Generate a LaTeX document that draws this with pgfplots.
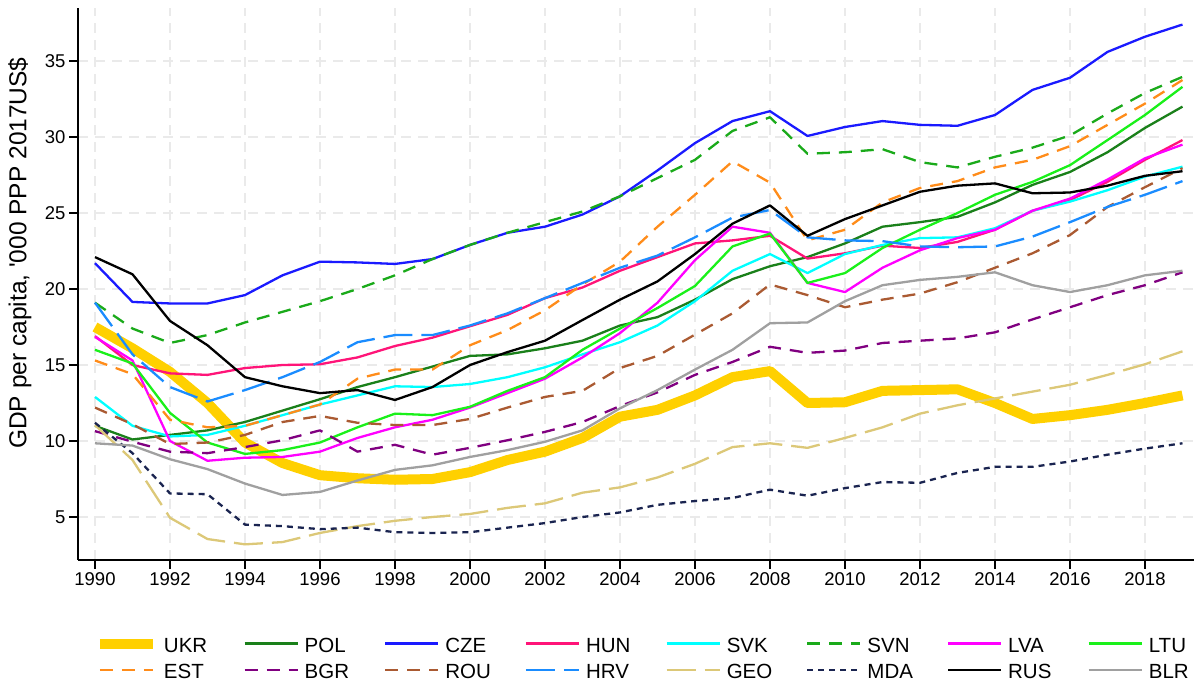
\documentclass[border=0pt]{standalone}
\usepackage{fontspec}
\setmainfont{Liberation Sans}
\usepackage{pgfplots}
\usepackage{pgfplotstable}
\pgfplotsset{compat=1.18}
\definecolor{cUKR}{RGB}{255,208,0}
\definecolor{cPOL}{RGB}{26,128,26}
\definecolor{cCZE}{RGB}{26,26,255}
\definecolor{cHUN}{RGB}{255,20,120}
\definecolor{cSVK}{RGB}{0,255,255}
\definecolor{cSVN}{RGB}{26,170,26}
\definecolor{cLVA}{RGB}{255,0,255}
\definecolor{cLTU}{RGB}{26,240,26}
\definecolor{cEST}{RGB}{255,140,26}
\definecolor{cBGR}{RGB}{128,0,128}
\definecolor{cROU}{RGB}{170,90,50}
\definecolor{cHRV}{RGB}{26,140,255}
\definecolor{cGEO}{RGB}{220,200,120}
\definecolor{cMDA}{RGB}{26,36,80}
\definecolor{cRUS}{RGB}{0,0,0}
\definecolor{cBLR}{RGB}{160,160,160}
\definecolor{gridc}{RGB}{234,234,234}
\pgfplotstableread{
year UKR POL CZE HUN SVK SVN LVA LTU EST BGR ROU HRV GEO MDA RUS BLR
1990 17.5 11.0 21.7 16.9 12.9 19.1 16.85 16.0 15.3 10.65 12.2 19.1 11.05 11.2 22.1 9.85
1991 16.1 10.1 19.15 15.0 11.0 17.4 15.3 15.1 14.4 9.95 11.1 15.7 8.75 9.2 20.97 9.7
1992 14.55 10.4 19.05 14.45 10.3 16.45 10.0 11.85 11.4 9.3 9.8 13.55 4.95 6.55 17.9 8.8
1993 12.5 10.7 19.05 14.35 10.4 16.97 8.7 9.9 10.9 9.2 9.9 12.6 3.55 6.5 16.3 8.15
1994 9.9 11.25 19.6 14.8 11.0 17.8 8.9 9.15 11.0 9.6 10.4 13.35 3.2 4.5 14.2 7.2
1995 8.55 12.0 20.9 15.0 11.7 18.5 8.95 9.4 11.7 10.05 11.25 14.2 3.35 4.4 13.6 6.45
1996 7.75 12.75 21.8 15.05 12.4 19.2 9.3 9.9 12.4 10.7 11.65 15.2 3.95 4.2 13.15 6.65
1997 7.55 13.55 21.75 15.5 13.0 20.0 10.2 10.9 14.1 9.3 11.2 16.5 4.4 4.3 13.35 7.4
1998 7.45 14.2 21.65 16.25 13.6 20.9 10.9 11.8 14.7 9.75 11.05 16.97 4.75 4.0 12.7 8.1
1999 7.5 14.9 21.97 16.8 13.55 21.97 11.4 11.7 14.7 9.1 11.05 16.97 5.0 3.95 13.55 8.4
2000 7.95 15.6 22.9 17.55 13.75 22.9 12.2 12.25 16.3 9.55 11.45 17.6 5.2 4.0 15.0 8.95
2001 8.75 15.7 23.7 18.3 14.2 23.7 13.15 13.3 17.3 10.05 12.2 18.4 5.6 4.3 15.85 9.4
2002 9.3 16.1 24.1 19.4 14.85 24.4 14.1 14.2 18.6 10.6 12.9 19.4 5.9 4.6 16.6 9.95
2003 10.2 16.6 24.9 20.1 15.7 25.1 15.5 16.0 20.3 11.25 13.3 20.4 6.6 5.0 17.96 10.7
2004 11.6 17.6 26.1 21.2 16.5 26.1 17.1 17.4 21.8 12.3 14.8 21.4 6.95 5.3 19.3 12.15
2005 12.05 18.15 27.8 22.1 17.6 27.3 19.1 18.75 24.1 13.2 15.6 22.2 7.6 5.8 20.5 13.35
2006 13.0 19.3 29.6 23.0 19.2 28.5 21.9 20.2 26.2 14.35 17.0 23.4 8.5 6.05 22.3 14.7
2007 14.2 20.65 31.05 23.2 21.2 30.4 24.1 22.8 28.4 15.2 18.4 24.7 9.6 6.25 24.3 16.0
2008 14.6 21.5 31.7 23.5 22.3 31.3 23.7 23.65 27.0 16.2 20.3 25.2 9.85 6.8 25.5 17.75
2009 12.5 22.1 30.07 22.0 21.05 28.9 20.4 20.4 23.2 15.8 19.6 23.4 9.55 6.4 23.5 17.8
2010 12.55 23.0 30.66 22.35 22.3 29.0 19.8 21.05 23.9 15.95 18.8 23.2 10.2 6.9 24.6 19.2
2011 13.3 24.1 31.05 22.85 22.9 29.2 21.4 22.7 25.7 16.45 19.3 23.15 10.9 7.3 25.5 20.25
2012 13.35 24.4 30.8 22.7 23.35 28.35 22.55 23.9 26.65 16.6 19.7 22.8 11.8 7.25 26.4 20.6
2013 13.4 24.75 30.74 23.1 23.4 28.0 23.35 25.0 27.1 16.75 20.45 22.75 12.35 7.9 26.8 20.8
2014 12.5 25.7 31.45 23.9 24.0 28.7 23.9 26.2 28.0 17.15 21.4 22.8 12.8 8.3 26.95 21.1
2015 11.45 26.85 33.1 25.15 25.15 29.3 25.15 27.05 28.5 18.0 22.35 23.45 13.25 8.3 26.3 20.25
2016 11.7 27.7 33.9 25.85 25.75 30.1 25.95 28.15 29.4 18.8 23.55 24.4 13.7 8.65 26.35 19.8
2017 12.05 29.0 35.6 27.05 26.5 31.55 27.2 29.8 30.8 19.6 25.4 25.4 14.35 9.1 26.8 20.25
2018 12.5 30.6 36.6 28.5 27.4 32.9 28.6 31.45 32.2 20.25 26.7 26.2 15.05 9.5 27.45 20.9
2019 13.0 32.0 37.4 29.8 28.05 33.96 29.5 33.3 33.75 21.1 27.95 27.1 15.9 9.85 27.75 21.2
}\gdp
\begin{document}
\begin{tikzpicture}
\useasboundingbox (0,0) rectangle (1194pt,687pt);
\begin{axis}[
  at={(78pt,127pt)}, anchor=south west,
  scale only axis, width=1116pt, height=552pt,
  xmin=1989.547, xmax=2019.307, ymin=2.171, ymax=38.49,
  axis x line*=bottom, axis y line*=left,
  axis line style={line width=1.3pt, black},
  xtick={1990,1992,...,2018}, ytick={5,10,...,35},
  tick align=outside, major tick length=9pt,
  tick style={line width=1.3pt, black},
  /pgf/number format/assume math mode=true,
  /pgf/number format/1000 sep={},
  ticklabel style={font=\fontsize{18.5}{22}\selectfont},
  grid=major,
  major grid style={gridc, line width=1.6pt, dash pattern=on 10pt off 7pt},
  ylabel={GDP per capita, \textquotesingle000 PPP 2017US\$},
  ylabel style={font=\fontsize{24.5}{28}\selectfont, at={(axis description cs:-0.052,0.556)}, anchor=center},
  legend columns=8,
  legend style={draw=none, fill=none, inner sep=0pt, outer sep=0pt,
    at={(axis description cs:0.0152,-0.133)}, anchor=north west,
    font=\fontsize{20.5}{27}\selectfont,
    nodes={inner sep=0pt},
    /tikz/every odd column/.style={column sep=6pt},
    row sep=6pt},
  legend image code/.code={\draw[#1] (0pt,0pt) -- (53pt,0pt);},
  every axis plot/.append style={line width=2.3pt, line join=round},
]
\addplot[cUKR, line width=10pt] table[x=year,y=UKR]{\gdp};
\addlegendentry{\makebox[79.4pt][l]{\strut UKR}}
\addplot[cPOL] table[x=year,y=POL]{\gdp};
\addlegendentry{\makebox[79.4pt][l]{\strut POL}}
\addplot[cCZE] table[x=year,y=CZE]{\gdp};
\addlegendentry{\makebox[79.4pt][l]{\strut CZE}}
\addplot[cHUN] table[x=year,y=HUN]{\gdp};
\addlegendentry{\makebox[79.4pt][l]{\strut HUN}}
\addplot[cSVK] table[x=year,y=SVK]{\gdp};
\addlegendentry{\makebox[79.4pt][l]{\strut SVK}}
\addplot[cSVN, dash pattern=on 13pt off 9pt] table[x=year,y=SVN]{\gdp};
\addlegendentry{\makebox[79.4pt][l]{\strut SVN}}
\addplot[cLVA] table[x=year,y=LVA]{\gdp};
\addlegendentry{\makebox[79.4pt][l]{\strut LVA}}
\addplot[cLTU] table[x=year,y=LTU]{\gdp};
\addlegendentry{\makebox[40pt][l]{\strut LTU}}
\addplot[cEST, dash pattern=on 13pt off 9pt] table[x=year,y=EST]{\gdp};
\addlegendentry{\makebox[79.4pt][l]{\strut EST}}
\addplot[cBGR, dash pattern=on 13pt off 9pt] table[x=year,y=BGR]{\gdp};
\addlegendentry{\makebox[79.4pt][l]{\strut BGR}}
\addplot[cROU, dash pattern=on 13pt off 9pt] table[x=year,y=ROU]{\gdp};
\addlegendentry{\makebox[79.4pt][l]{\strut ROU}}
\addplot[cHRV, dash pattern=on 29pt off 9pt] table[x=year,y=HRV]{\gdp};
\addlegendentry{\makebox[79.4pt][l]{\strut HRV}}
\addplot[cGEO, dash pattern=on 29pt off 9pt] table[x=year,y=GEO]{\gdp};
\addlegendentry{\makebox[79.4pt][l]{\strut GEO}}
\addplot[cMDA, dash pattern=on 6pt off 5pt] table[x=year,y=MDA]{\gdp};
\addlegendentry{\makebox[79.4pt][l]{\strut MDA}}
\addplot[cRUS] table[x=year,y=RUS]{\gdp};
\addlegendentry{\makebox[79.4pt][l]{\strut RUS}}
\addplot[cBLR] table[x=year,y=BLR]{\gdp};
\addlegendentry{\makebox[40pt][l]{\strut BLR}}
\end{axis}
\end{tikzpicture}
\end{document}
